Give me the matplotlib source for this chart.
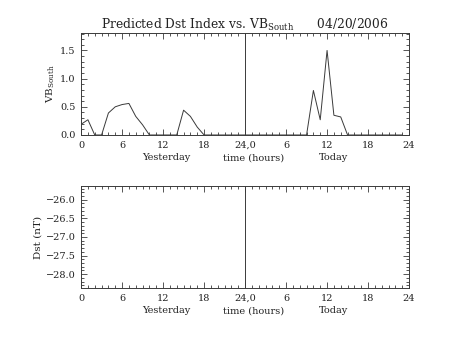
import numpy as np
import matplotlib.pyplot as plt
from matplotlib.ticker import MultipleLocator, FixedLocator

plt.rcParams["font.family"] = "DejaVu Serif"
plt.rcParams["mathtext.fontset"] = "dejavuserif"

# hourly VB south, yesterday 0-23 then today 0-23
hours = list(range(48))
vb_south = [0.19, 0.27, 0.0, 0.0, 0.39, 0.50, 0.54, 0.56, 0.33, 0.18,
            0.0, 0.0, 0.0, 0.0, 0.0, 0.44, 0.33, 0.14, 0.0, 0.0,
            0.0, 0.0, 0.0, 0.0, 0.0, 0.0, 0.0, 0.0, 0.0, 0.0,
            0.0, 0.0, 0.0, 0.0, 0.79, 0.27, 1.50, 0.35, 0.32, 0.0,
            0.0, 0.0, 0.0, 0.0, 0.0, 0.0, 0.0, 0.0]

xtick_pos = [0, 6, 12, 18, 24, 30, 36, 42, 48]
xtick_labels = ["0", "6", "12", "18", "24,0", "6", "12", "18", "24"]

ink = "#3a3a3a"
fs = 7

fig = plt.figure(figsize=(4.53, 3.40), dpi=100)
ax1 = fig.add_axes([0.179, 0.603, 0.724, 0.300])
ax2 = fig.add_axes([0.179, 0.153, 0.724, 0.300])


def style_axis(ax):
    ax.set_xlim(0, 48)
    ax.xaxis.set_major_locator(FixedLocator(xtick_pos))
    ax.set_xticklabels(xtick_labels)
    ax.xaxis.set_minor_locator(MultipleLocator(1))
    ax.tick_params(which="both", direction="in", top=True, right=True,
                   colors=ink, labelcolor="#222222", labelsize=fs, width=0.6)
    ax.tick_params(which="major", length=4, pad=4)
    ax.tick_params(which="minor", length=2)
    for s in ax.spines.values():
        s.set_color(ink)
        s.set_linewidth(0.7)
    ax.axvline(24, color=ink, lw=0.7)
    # labels under the time axis
    tr = ax.get_xaxis_transform()
    ax.text(12.4, -0.18, "Yesterday", transform=tr,
            ha="center", va="top", fontsize=fs, color="#222222")
    ax.text(25.2, -0.18, "time (hours)", transform=tr,
            ha="center", va="top", fontsize=fs, color="#222222")
    ax.text(37.0, -0.18, "Today", transform=tr,
            ha="center", va="top", fontsize=fs, color="#222222")


# top: VB south
ax1.plot(hours, vb_south, color=ink, lw=0.7)
ax1.set_ylim(0, 1.81)
ax1.yaxis.set_major_locator(MultipleLocator(0.5))
ax1.yaxis.set_minor_locator(MultipleLocator(0.1))
ax1.yaxis.set_major_formatter("{x:.1f}")
style_axis(ax1)
ax1.set_ylabel(r"VB$_{\rm South}$", fontsize=7.5, color="#222222", labelpad=2)
ax1.set_title(r"Predicted Dst Index vs. VB$_{\rm South}$      04/20/2006",
              fontsize=8.8, color="#222222", pad=3)

# bottom: Dst, no values available
ax2.set_ylim(-28.37, -25.63)
ax2.yaxis.set_major_locator(MultipleLocator(0.5))
ax2.yaxis.set_minor_locator(MultipleLocator(0.1))
ax2.yaxis.set_major_formatter("{x:.1f}")
style_axis(ax2)
ax2.set_ylabel("Dst (nT)", fontsize=7.5, color="#222222", labelpad=2)

fig.savefig("out.png", dpi=100)
